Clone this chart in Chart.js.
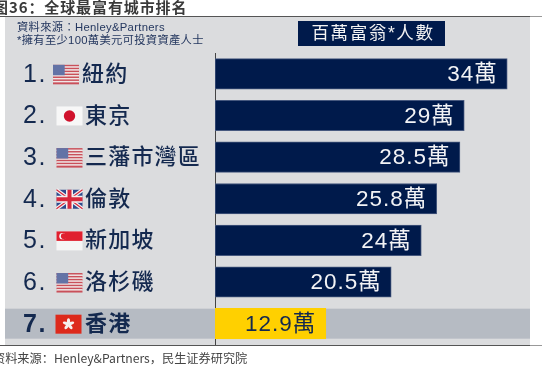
<!DOCTYPE html>
<html>
<head>
  <meta charset="utf-8">
  <title>全球最富有城市排名</title>
  <script src="https://cdn.jsdelivr.net/npm/chart.js"></script>
  <style>
    body { margin: 0; background: #fff; overflow: hidden; }
    #wrap { position: relative; width: 542px; height: 373px; overflow: hidden; }
    #title { position: absolute; left: -7px; top: -4px; font: bold 15px "Noto Sans CJK SC"; color: #3a3a3a; letter-spacing: 0.9px; white-space: nowrap; }
    #foot { position: absolute; left: -7px; top: 349px; font: 12.2px "Noto Sans CJK SC"; color: #444; white-space: nowrap; }
    canvas { position: absolute; left: 0; top: 0; }
  </style>
</head>
<body>
  <div id="wrap">
    <canvas id="chart" width="542" height="373"></canvas>
    <div id="title">图36：全球最富有城市排名</div>
    <div id="foot">资料来源：Henley&amp;Partners，民生证券研究院</div>
  </div>

  <script>
    const ranks = ["1.", "2.", "3.", "4.", "5.", "6.", "7."];
    const cities = ["紐約", "東京", "三藩市灣區", "倫敦", "新加坡", "洛杉磯", "香港"];
    const flags = ["us", "jp", "us", "uk", "sg", "us", "hk"];
    const values = [34, 29, 28.5, 25.8, 24, 20.5, 12.9];
    const barColors = ["#001a4b", "#001a4b", "#001a4b", "#001a4b", "#001a4b", "#001a4b", "#ffd000"];
    const sourceLines = ["資料來源：Henley&Partners", "*擁有至少100萬美元可投資資產人士"];
    const headerText = "百萬富翁*人數";

    const NAVY = "#14294f";
    const FONT = '"Liberation Sans", "Noto Sans CJK TC"';

    function drawFlag(ctx, kind, x, y, w, h) {
      ctx.save();
      if (kind === "us") {
        for (let i = 0; i < 13; i++) {
          ctx.fillStyle = i % 2 ? "#f0e6e6" : "#c9505a";
          ctx.fillRect(x, y + i * h / 13, w, h / 13 + 0.5);
        }
        ctx.fillStyle = "#6373a6";
        ctx.fillRect(x, y, w * 0.45, h * 0.55);
      } else if (kind === "jp") {
        ctx.fillStyle = "#f7f7f7";
        ctx.fillRect(x, y, w, h);
        ctx.fillStyle = "#d0122c";
        ctx.beginPath();
        ctx.arc(x + w / 2, y + h / 2, h * 0.3, 0, Math.PI * 2);
        ctx.fill();
      } else if (kind === "uk") {
        ctx.fillStyle = "#2f4a8c";
        ctx.fillRect(x, y, w, h);
        ctx.strokeStyle = "#f2f2f2";
        ctx.lineWidth = 3.5;
        ctx.beginPath();
        ctx.moveTo(x, y); ctx.lineTo(x + w, y + h);
        ctx.moveTo(x + w, y); ctx.lineTo(x, y + h);
        ctx.stroke();
        ctx.strokeStyle = "#d8283c";
        ctx.lineWidth = 1.2;
        ctx.stroke();
        ctx.fillStyle = "#f2f2f2";
        ctx.fillRect(x + w / 2 - 3.5, y, 7, h);
        ctx.fillRect(x, y + h / 2 - 3.5, w, 7);
        ctx.fillStyle = "#d8283c";
        ctx.fillRect(x + w / 2 - 2, y, 4, h);
        ctx.fillRect(x, y + h / 2 - 2, w, 4);
      } else if (kind === "sg") {
        ctx.fillStyle = "#f5f5f5";
        ctx.fillRect(x, y, w, h);
        ctx.fillStyle = "#e0202f";
        ctx.fillRect(x, y, w, h / 2);
        ctx.fillStyle = "#f5f5f5";
        ctx.beginPath();
        ctx.arc(x + 6, y + h / 4, 3.2, 0, Math.PI * 2);
        ctx.fill();
        ctx.fillStyle = "#e0202f";
        ctx.beginPath();
        ctx.arc(x + 7.2, y + h / 4, 2.8, 0, Math.PI * 2);
        ctx.fill();
      } else if (kind === "hk") {
        ctx.fillStyle = "#dd2a1c";
        ctx.fillRect(x, y, w, h);
        ctx.fillStyle = "#f6f0ee";
        for (let i = 0; i < 5; i++) {
          const a = i * Math.PI * 2 / 5 - Math.PI / 2;
          ctx.beginPath();
          ctx.ellipse(x + w / 2 + Math.cos(a) * 3, y + h / 2 + Math.sin(a) * 3, 3, 1.6, a, 0, Math.PI * 2);
          ctx.fill();
        }
      }
      ctx.restore();
    }

    const panelPlugin = {
      id: "panel",
      beforeDraw(chart) {
        const ctx = chart.ctx;
        const yScale = chart.scales.y;
        const hk = yScale.getPixelForValue(6);
        ctx.save();
        ctx.fillStyle = "#dbdcde";
        ctx.fillRect(5, 17, 525, 328);
        ctx.fillStyle = "#b6bbc3";
        ctx.fillRect(5, hk - 15, 525, 30);
        ctx.fillStyle = "#555";
        ctx.fillRect(0, 16, 530, 1);
        ctx.fillRect(0, 345, 530, 1);
        ctx.fillStyle = "#999";
        ctx.fillRect(530, 16, 12, 1);
        ctx.fillRect(530, 345, 12, 1);
        ctx.restore();
      }
    };

    const labelPlugin = {
      id: "labels",
      afterDatasetsDraw(chart) {
        const ctx = chart.ctx;
        const meta = chart.getDatasetMeta(0);
        const yScale = chart.scales.y;
        ctx.save();
        ctx.textBaseline = "middle";

        // source note
        ctx.fillStyle = "#24375f";
        ctx.font = "11.3px " + FONT;
        ctx.textAlign = "left";
        ctx.letterSpacing = "0.3px";
        sourceLines.forEach((line, i) => ctx.fillText(line, 17, 28 + i * 12.5));

        // header box
        ctx.fillStyle = "#001a4b";
        ctx.fillRect(298, 21, 147, 25);
        ctx.fillStyle = "#f4f4f4";
        ctx.font = "17.5px " + FONT;
        ctx.letterSpacing = "1.6px";
        ctx.textAlign = "center";
        ctx.fillText(headerText, 373, 34);

        cities.forEach((city, i) => {
          const y = yScale.getPixelForValue(i);
          const isHk = i === 6;
          ctx.textAlign = "left";
          ctx.fillStyle = NAVY;
          ctx.font = (isHk ? "bold " : "") + "25px " + FONT;
          ctx.letterSpacing = "1.5px";
          ctx.fillText(ranks[i], 23, y + 1);
          const flagX = i === 0 ? 53 : (isHk ? 55.5 : 56.5);
          drawFlag(ctx, flags[i], flagX, y - 9, 26, 19);
          ctx.font = (isHk ? "bold " : "500 ") + "22px " + FONT;
          ctx.letterSpacing = "1.2px";
          ctx.fillText(city, i === 0 ? 82 : 85, y + 1);

          // value label inside the bar end
          ctx.textAlign = "right";
          ctx.fillStyle = isHk ? NAVY : "#f2f3f5";
          ctx.font = "22.5px " + FONT;
          ctx.letterSpacing = "1px";
          ctx.fillText(values[i] + "萬", meta.data[i].x - 9.5, y + 1);
        });
        ctx.restore();
      }
    };

    new Chart(document.getElementById("chart"), {
      type: "bar",
      data: {
        labels: cities,
        datasets: [{
          data: values,
          backgroundColor: barColors,
          borderColor: ["#46587e", "#46587e", "#46587e", "#46587e", "#46587e", "#46587e", "#ffd000"],
          borderWidth: 1,
          borderSkipped: false,
          barThickness: 30.5
        }]
      },
      options: {
        indexAxis: "y",
        responsive: false,
        animation: false,
        layout: { padding: { left: 215, right: 12, top: 53, bottom: 28.5 } },
        plugins: { legend: { display: false }, tooltip: { enabled: false } },
        scales: {
          x: { display: false, min: 0, max: 36.65, grid: { display: false } },
          y: {
            grid: { display: false, drawTicks: false },
            border: { color: "#444", width: 1 },
            ticks: { display: false }
          }
        }
      },
      plugins: [panelPlugin, labelPlugin]
    });
  </script>
</body>
</html>
